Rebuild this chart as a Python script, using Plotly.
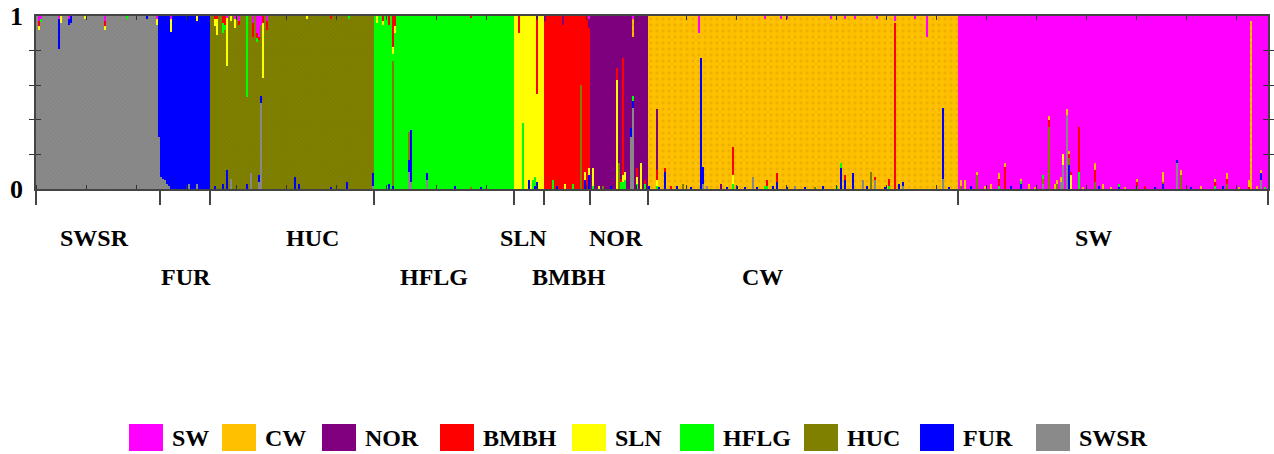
import numpy as np
import plotly.graph_objects as go

# ---------------- data ----------------
# clusters in legend order
legend_clusters = ["SW", "CW", "NOR", "BMBH", "SLN", "HFLG", "HUC", "FUR", "SWSR"]
# populations along the x axis (left to right) and their sample counts
groups = ["SWSR", "FUR", "HUC", "HFLG", "SLN", "BMBH", "NOR", "CW", "SW"]
group_sizes = [62, 25, 82, 70, 15, 23, 29, 155, 155]
# stacking order of clusters in each bar (bottom -> top)
stack_order = ["SWSR", "FUR", "HUC", "HFLG", "SLN", "BMBH", "NOR", "CW", "SW"]
y_tick_labels = ["0", "", "", "", "", "1"]
y_tick_vals = [0, 0.2, 0.4, 0.6, 0.8, 1]

# admixed individuals: local index -> membership in foreign clusters
admix_SWSR = {1: {"SW": 0.03, "BMBH": 0.03, "SLN": 0.02}, 2: {"SW": 0.02, "HFLG": 0.01},
              11: {"FUR": 0.17, "SW": 0.02}, 12: {"SLN": 0.04}, 16: {"FUR": 0.03, "SW": 0.02},
              17: {"FUR": 0.04}, 24: {"SLN": 0.02}, 34: {"SW": 0.03, "BMBH": 0.03, "SLN": 0.02},
              45: {"HFLG": 0.02}, 55: {"FUR": 0.02}, 60: {"SLN": 0.03, "SW": 0.02},
              61: {"FUR": 0.70}}
admix_FUR = {0: {"SWSR": 0.07}, 1: {"SWSR": 0.06}, 2: {"SWSR": 0.05}, 3: {"SWSR": 0.03},
             4: {"SWSR": 0.02}, 5: {"SLN": 0.07, "SW": 0.02}, 14: {"SWSR": 0.03},
             18: {"SWSR": 0.03, "SLN": 0.03}}
admix_HUC = {2: {"FUR": 0.02, "SLN": 0.04, "BMBH": 0.02}, 3: {"SLN": 0.09, "BMBH": 0.02},
             6: {"FUR": 0.03, "HFLG": 0.06, "BMBH": 0.04}, 7: {"BMBH": 0.05, "HFLG": 0.03},
             8: {"FUR": 0.11, "SLN": 0.28, "SW": 0.01}, 10: {"SWSR": 0.06, "SLN": 0.03},
             12: {"SLN": 0.05, "SW": 0.02}, 14: {"SW": 0.03, "BMBH": 0.02},
             18: {"FUR": 0.03, "HFLG": 0.47}, 20: {"SWSR": 0.09}, 21: {"BMBH": 0.08, "SW": 0.04},
             23: {"SW": 0.10, "BMBH": 0.03, "HFLG": 0.02},
             24: {"FUR": 0.04, "SWSR": 0.04, "SW": 0.12, "BMBH": 0.02},
             25: {"SWSR": 0.50, "FUR": 0.04, "SW": 0.05}, 26: {"SLN": 0.32, "BMBH": 0.04},
             28: {"BMBH": 0.05, "SW": 0.03}, 42: {"FUR": 0.07}, 44: {"FUR": 0.03},
             48: {"SLN": 0.02}, 60: {"FUR": 0.01, "BMBH": 0.02}, 68: {"FUR": 0.04},
             69: {"HFLG": 0.02}, 81: {"FUR": 0.07, "SWSR": 0.02}}
admix_HFLG = {1: {"SLN": 0.04}, 4: {"BMBH": 0.03, "SLN": 0.02}, 7: {"FUR": 0.03, "BMBH": 0.05},
              9: {"HUC": 0.72, "BMBH": 0.18, "SLN": 0.04, "FUR": 0.02},
              10: {"BMBH": 0.06, "SLN": 0.04}, 17: {"SWSR": 0.10, "FUR": 0.07, "HUC": 0.16},
              18: {"SWSR": 0.04, "FUR": 0.30}, 26: {"SWSR": 0.05, "FUR": 0.04},
              40: {"FUR": 0.02}, 48: {"BMBH": 0.01, "HUC": 0.01}, 53: {"FUR": 0.01}}
admix_SLN = {2: {"BMBH": 0.10}, 4: {"HFLG": 0.38}, 7: {"FUR": 0.05}, 9: {"HFLG": 0.05},
             10: {"HFLG": 0.05, "FUR": 0.02}, 11: {"FUR": 0.04, "BMBH": 0.43, "NOR": 0.02}}
admix_BMBH = {0: {"NOR": 0.03}, 4: {"HFLG": 0.05}, 6: {"FUR": 0.02}, 9: {"NOR": 0.05},
              10: {"SLN": 0.03}, 14: {"HFLG": 0.03}, 18: {"HUC": 0.60},
              20: {"FUR": 0.05, "SLN": 0.05},
              22: {"FUR": 0.08, "SLN": 0.04, "NOR": 0.05, "SW": 0.02}}
admix_NOR = {1: {"SLN": 0.10, "HFLG": 0.02}, 4: {"SLN": 0.02}, 6: {"HUC": 0.02},
             10: {"FUR": 0.02}, 13: {"SLN": 0.63, "BMBH": 0.07}, 14: {"HUC": 0.15},
             15: {"HFLG": 0.04, "BMBH": 0.02}, 16: {"HFLG": 0.04, "SLN": 0.04, "BMBH": 0.68},
             17: {"HFLG": 0.05, "SLN": 0.05}, 20: {"SWSR": 0.30, "FUR": 0.05},
             21: {"SWSR": 0.47, "FUR": 0.04, "HFLG": 0.03, "CW": 0.10, "SW": 0.02},
             23: {"HFLG": 0.03, "SLN": 0.04, "BMBH": 0.05}, 25: {"SLN": 0.15},
             27: {"HFLG": 0.03, "BMBH": 0.02}}
admix_CW = {0: {"FUR": 0.02}, 4: {"SLN": 0.03, "HFLG": 0.02, "BMBH": 0.06, "NOR": 0.35},
            5: {"FUR": 0.01}, 8: {"FUR": 0.10, "BMBH": 0.02}, 11: {"BMBH": 0.02},
            14: {"FUR": 0.02}, 17: {"HUC": 0.03}, 21: {"FUR": 0.01}, 25: {"SW": 0.10},
            26: {"FUR": 0.76}, 27: {"FUR": 0.10, "SWSR": 0.03}, 29: {"SWSR": 0.02},
            36: {"NOR": 0.03}, 39: {"FUR": 0.01}, 42: {"HFLG": 0.03, "SLN": 0.05, "BMBH": 0.16},
            44: {"FUR": 0.02}, 48: {"FUR": 0.01}, 52: {"SWSR": 0.07}, 54: {"FUR": 0.01},
            58: {"SW": 0.02, "HFLG": 0.02}, 59: {"BMBH": 0.03, "HFLG": 0.02}, 62: {"FUR": 0.02},
            64: {"FUR": 0.04, "BMBH": 0.05}, 66: {"SW": 0.02}, 69: {"SW": 0.02, "FUR": 0.01},
            73: {"SWSR": 0.02}, 78: {"FUR": 0.01}, 83: {"HUC": 0.01}, 87: {"FUR": 0.02},
            91: {"SW": 0.02}, 94: {"HFLG": 0.02}, 96: {"FUR": 0.12, "HFLG": 0.03},
            98: {"FUR": 0.05, "BMBH": 0.03, "SW": 0.02}, 102: {"FUR": 0.09}, 103: {"SW": 0.02},
            107: {"SWSR": 0.05}, 109: {"FUR": 0.02}, 111: {"HUC": 0.10},
            113: {"SWSR": 0.05, "BMBH": 0.02}, 114: {"SW": 0.02}, 118: {"FUR": 0.01},
            120: {"HFLG": 0.02, "BMBH": 0.04}, 123: {"BMBH": 0.96, "SW": 0.03},
            125: {"FUR": 0.03}, 127: {"FUR": 0.02, "SWSR": 0.02}, 133: {"SW": 0.02},
            139: {"SW": 0.12}, 147: {"SWSR": 0.06, "FUR": 0.41}, 150: {"FUR": 0.01}}
admix_SW = {1: {"HUC": 0.02, "CW": 0.03}, 3: {"CW": 0.05}, 6: {"FUR": 0.02},
            9: {"HUC": 0.08, "CW": 0.02}, 13: {"CW": 0.02}, 16: {"CW": 0.03},
            20: {"HFLG": 0.02, "BMBH": 0.04, "CW": 0.03}, 23: {"BMBH": 0.13, "CW": 0.02},
            26: {"FUR": 0.02}, 31: {"FUR": 0.03, "HFLG": 0.02, "CW": 0.01}, 35: {"CW": 0.03},
            38: {"CW": 0.01}, 42: {"SWSR": 0.03, "HUC": 0.03, "HFLG": 0.02},
            45: {"HUC": 0.36, "BMBH": 0.04, "CW": 0.02}, 48: {"CW": 0.03},
            49: {"HUC": 0.03, "CW": 0.02}, 51: {"SWSR": 0.04, "CW": 0.03},
            52: {"SWSR": 0.14, "SLN": 0.06}, 54: {"SWSR": 0.43, "CW": 0.03},
            55: {"FUR": 0.14, "HUC": 0.04, "BMBH": 0.02, "CW": 0.02},
            56: {"SLN": 0.08, "BMBH": 0.02}, 60: {"HFLG": 0.10, "BMBH": 0.26},
            62: {"CW": 0.01}, 68: {"HUC": 0.04, "BMBH": 0.07, "CW": 0.04}, 70: {"FUR": 0.02},
            72: {"CW": 0.03}, 76: {"CW": 0.01}, 80: {"HFLG": 0.02, "FUR": 0.01}, 83: {"CW": 0.01},
            89: {"HUC": 0.02, "BMBH": 0.02, "CW": 0.02}, 93: {"BMBH": 0.02}, 98: {"FUR": 0.01},
            102: {"FUR": 0.03, "HUC": 0.01, "CW": 0.06}, 109: {"SWSR": 0.15, "FUR": 0.02},
            111: {"HUC": 0.08, "CW": 0.03}, 116: {"FUR": 0.01}, 121: {"CW": 0.02},
            128: {"HFLG": 0.02, "BMBH": 0.02, "CW": 0.02}, 132: {"FUR": 0.02},
            134: {"HUC": 0.03, "BMBH": 0.03, "CW": 0.03}, 140: {"CW": 0.01},
            145: {"BMBH": 0.01, "CW": 0.04}, 146: {"CW": 0.97}, 149: {"CW": 0.02},
            151: {"SWSR": 0.05, "FUR": 0.04, "CW": 0.02}, 153: {"HFLG": 0.01}}

admix = {"SWSR": admix_SWSR, "FUR": admix_FUR, "HUC": admix_HUC, "HFLG": admix_HFLG,
         "SLN": admix_SLN, "BMBH": admix_BMBH, "NOR": admix_NOR, "CW": admix_CW, "SW": admix_SW}

# ---------------- styles ----------------
colors = {"SW": "#ff00ff", "CW": "#ffc000", "NOR": "#800080", "BMBH": "#ff0000",
          "SLN": "#ffff00", "HFLG": "#00ff00", "HUC": "#808000", "FUR": "#0000ff",
          "SWSR": "#8a8a8a"}
patterns = {"CW": dict(shape=".", fgcolor="#dba400", size=6, solidity=0.25),
            "SWSR": dict(shape="x", fgcolor="#767676", size=3, solidity=0.3),
            "HUC": dict(shape="x", fgcolor="#6c6c00", size=3, solidity=0.3),
            "NOR": dict(shape="x", fgcolor="#6a006a", size=3, solidity=0.3)}
FONT = "Liberation Serif"
PL, PR, PT, PB = 36, 1268, 16, 189          # plot area in pixels
W, H = 1274, 454
label_rows = [0, 1, 0, 1, 0, 1, 0, 1, 0]     # alternating label rows
label_shift = [-4, 1, 20, -10, -6, 2, -3, -41, -20]
row_y_px = [238, 277]
legend_left_px = [129, 222, 322, 440, 572, 680, 804, 920, 1036]
sq_w, sq_top, sq_bot = 34, 424, 451


def px2paper_x(px):
    return (px - PL) / (PR - PL)


def px2paper_y(py):
    return (PB - py) / (PB - PT)


# ---------------- build membership matrix ----------------
N = sum(group_sizes)
ci = {c: k for k, c in enumerate(stack_order)}
Q = np.zeros((N, len(stack_order)))
start = 0
bounds = [-0.5]
centers = []
for g, n in zip(groups, group_sizes):
    for i in range(n):
        row = Q[start + i]
        foreign = admix[g].get(i, {})
        for c, v in foreign.items():
            row[ci[c]] = v
        row[ci[g]] = 1.0 - sum(foreign.values())
    centers.append(start + n / 2 - 0.5)
    start += n
    bounds.append(start - 0.5)

x = np.arange(N)
fig = go.Figure()
for c in stack_order:
    marker = dict(color=colors[c], line=dict(width=0))
    if c in patterns:
        marker["pattern"] = patterns[c]
    fig.add_trace(go.Bar(x=x, y=Q[:, ci[c]], name=c, marker=marker, width=1,
                         showlegend=False, hovertemplate=c + ": %{y:.2f}<extra></extra>"))

fig.update_layout(
    width=W, height=H, barmode="stack", bargap=0, showlegend=False,
    margin=dict(l=PL, r=W - PR, t=PT, b=H - PB, pad=0, autoexpand=False),
    plot_bgcolor="white", paper_bgcolor="white",
    font=dict(family=FONT, color="black"),
    xaxis=dict(range=[-0.5, N - 0.5], tickmode="array", tickvals=bounds, showticklabels=False,
               ticks="outside", ticklen=14, tickwidth=1.5, tickcolor="#444", automargin=False,
               showline=True, linecolor="#444", linewidth=2, mirror=True,
               showgrid=False, zeroline=False,
               minor=dict(tickmode="linear", tick0=-0.5, dtick=25, ticks="inside",
                          ticklen=4, tickwidth=1.2, tickcolor="#333", showgrid=False)),
    xaxis2=dict(range=[-0.5, N - 0.5], overlaying="x", side="top", tickmode="linear",
                tick0=-0.5, dtick=25, ticks="inside", ticklen=4, tickwidth=1.2,
                tickcolor="#333", showticklabels=False, showgrid=False, zeroline=False,
                showline=False, automargin=False),
    yaxis=dict(range=[0, 1], tickmode="array", tickvals=y_tick_vals, ticktext=y_tick_labels,
               ticks="inside", ticklen=5, tickwidth=1.2, tickcolor="#333", mirror="allticks",
               showline=True, linecolor="#444", linewidth=1.5, showgrid=False, zeroline=False,
               automargin=False, ticklabelstandoff=6,
               tickfont=dict(family=FONT, size=26, color="black", weight="bold")),
)
# invisible trace to activate xaxis2
fig.add_trace(go.Scatter(x=[0], y=[0], xaxis="x2", mode="markers", marker=dict(opacity=0),
                         showlegend=False, hoverinfo="skip"))

# population labels
for g, cx, r, sh in zip(groups, centers, label_rows, label_shift):
    fig.add_annotation(x=cx, xref="x", y=px2paper_y(row_y_px[r]), yref="paper",
                       text=g, showarrow=False, xshift=sh,
                       xanchor="center", yanchor="middle",
                       font=dict(family=FONT, size=24, color="black", weight="bold"))

# manual legend
for c, lx in zip(legend_clusters, legend_left_px):
    fig.add_shape(type="rect", xref="paper", yref="paper",
                  x0=px2paper_x(lx), x1=px2paper_x(lx + sq_w),
                  y0=px2paper_y(sq_bot), y1=px2paper_y(sq_top),
                  fillcolor=colors[c], line=dict(width=0))
    fig.add_annotation(x=px2paper_x(lx + sq_w + 7), xref="paper",
                       y=px2paper_y((sq_top + sq_bot) / 2), yref="paper",
                       text=c, showarrow=False, xanchor="left", yanchor="middle",
                       font=dict(family=FONT, size=24, color="black", weight="bold"))

fig.write_html("out.html", config={"displayModeBar": False},
               post_script="document.body.style.margin='0';document.body.style.overflow='hidden';")
